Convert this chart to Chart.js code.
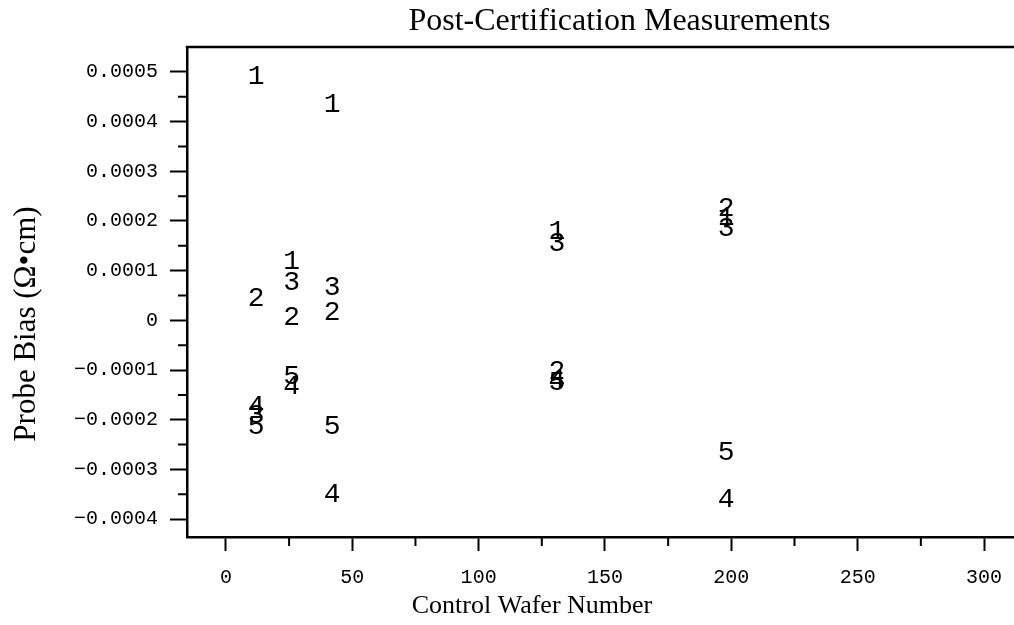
<!DOCTYPE html>
<html>
<head>
<meta charset="utf-8">
<script src="https://cdn.jsdelivr.net/npm/chart.js@4/dist/chart.umd.min.js"></script>
<style>
html,body{margin:0;padding:0;background:#fff;overflow:hidden;width:1014px;height:625px}
canvas{display:block}
</style>
</head>
<body>
<canvas id="c" width="1052" height="625"></canvas>
<script>
// ---- data ----
const wafers = [12, 26, 42, 131, 198];
const probe1 = [0.000494, 0.000122, 0.000438, 0.000183, 0.000211];
const probe2 = [0.000048, 0.000010, 0.000020, -0.000098, 0.000229];
const probe3 = [-0.000187, 0.000080, 0.000070, 0.000159, 0.000189];
const probe4 = [-0.000169, -0.000130, -0.000347, -0.000118, -0.000357];
const probe5 = [-0.000209, -0.000108, -0.000209, -0.000122, -0.000261];
const probeMarkers = ['1', '2', '3', '4', '5'];

const xTicks = [0, 50, 100, 150, 200, 250, 300];
const xMinor = [25, 75, 125, 175, 225, 275];
const yTicks = [-0.0004, -0.0003, -0.0002, -0.0001, 0, 0.0001, 0.0002, 0.0003, 0.0004, 0.0005];
const yMinor = [-0.00035, -0.00025, -0.00015, -0.00005, 0.00005, 0.00015, 0.00025, 0.00035, 0.00045];

const titleText = 'Post-Certification Measurements';
const xTitle = 'Control Wafer Number';
const yTitle = 'Probe Bias (\u03A9\u2022cm)';

const series = [probe1, probe2, probe3, probe4, probe5];
const datasets = series.map((vals, i) => ({
  label: 'Probe ' + probeMarkers[i],
  marker: probeMarkers[i],
  data: wafers.map((w, j) => ({x: w, y: vals[j]})),
  pointRadius: 0,
  showLine: false
}));

const decor = {
  id: 'decor',
  afterDatasetsDraw(chart) {
    const ctx = chart.ctx;
    ctx.save();
    ctx.font = '28px "Liberation Mono", "DejaVu Sans Mono", monospace';
    ctx.fillStyle = '#000';
    ctx.textAlign = 'center';
    ctx.textBaseline = 'alphabetic';
    chart.data.datasets.forEach((ds, i) => {
      chart.getDatasetMeta(i).data.forEach(pt => {
        ctx.fillText(ds.marker, pt.x, pt.y + 9.5);
      });
    });
    ctx.restore();
  },
  afterDraw(chart) {
    const {ctx, chartArea: a, scales: {x, y}} = chart;
    ctx.save();
    ctx.strokeStyle = '#000';
    ctx.lineWidth = 2.5;
    ctx.beginPath();
    ctx.moveTo(a.left - 1.25, a.top);
    ctx.lineTo(a.right, a.top);
    ctx.stroke();
    ctx.lineWidth = 2;
    ctx.beginPath();
    xMinor.forEach(v => {
      const p = x.getPixelForValue(v);
      ctx.moveTo(p, a.bottom);
      ctx.lineTo(p, a.bottom + 9);
    });
    yMinor.forEach(v => {
      const p = y.getPixelForValue(v);
      ctx.moveTo(a.left, p);
      ctx.lineTo(a.left - 9, p);
    });
    ctx.stroke();
    ctx.fillStyle = '#000';
    ctx.textAlign = 'center';
    ctx.textBaseline = 'middle';
    // x-axis title
    ctx.font = '26px "Liberation Serif", serif';
    ctx.fillText(xTitle, 532, 606);
    // y-axis title
    ctx.translate(27, 324);
    ctx.rotate(-Math.PI / 2);
    ctx.font = '31px "Liberation Serif", serif';
    ctx.fillText(yTitle, 0, 0);
    ctx.restore();
  }
};

const monoFont = {family: '"Liberation Mono", "DejaVu Sans Mono", monospace', size: 20};

new Chart(document.getElementById('c'), {
  type: 'scatter',
  data: {datasets},
  options: {
    responsive: false,
    animation: false,
    events: [],
    layout: {padding: {left: 62, right: 0, top: 0, bottom: 20}},
    plugins: {
      legend: {display: false},
      tooltip: {enabled: false},
      title: {
        display: true,
        text: titleText,
        fullSize: false,
        color: '#000',
        font: {family: '"Liberation Serif", serif', size: 32, weight: 'normal'},
        padding: {top: 2, bottom: 6.6}
      }
    },
    scales: {
      x: {
        type: 'linear',
        min: -15.4,
        max: 326.9,
        afterBuildTicks: s => { s.ticks = xTicks.map(v => ({value: v})); },
        grid: {display: true, drawOnChartArea: false, drawTicks: true, tickLength: 14, tickWidth: 2, tickColor: '#000'},
        border: {display: true, color: '#000', width: 2.5},
        ticks: {font: monoFont, color: '#000', padding: 15, maxRotation: 0, autoSkip: false,
          callback: v => String(v)}
      },
      y: {
        type: 'linear',
        min: -0.000436,
        max: 0.0005502,
        afterBuildTicks: s => { s.ticks = yTicks.map(v => ({value: v})); },
        grid: {display: true, drawOnChartArea: false, drawTicks: true, tickLength: 17, tickWidth: 2, tickColor: '#000'},
        border: {display: true, color: '#000', width: 2.5},
        ticks: {font: monoFont, color: '#000', padding: 12, autoSkip: false,
          callback: v => Math.abs(v) < 1e-12 ? '0' : (v < 0 ? '\u2212' : '') + Math.abs(v).toFixed(4)}
      }
    }
  },
  plugins: [decor]
});
</script>
</body>
</html>
